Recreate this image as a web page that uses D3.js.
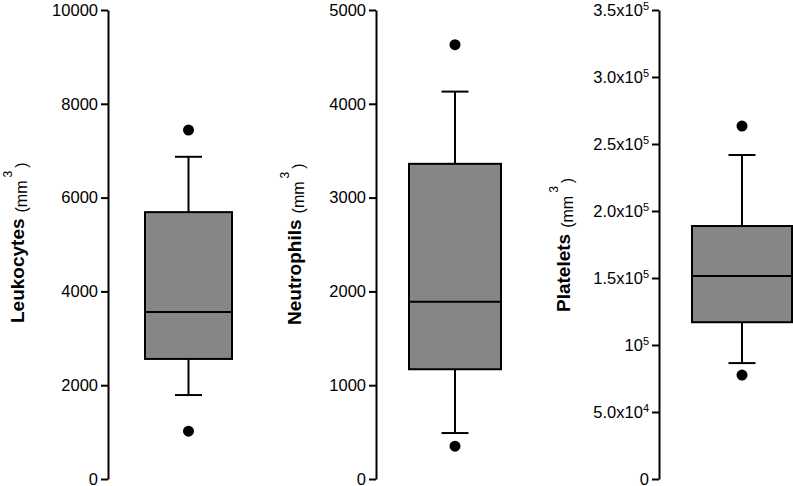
<!DOCTYPE html>
<html><head><meta charset="utf-8">
<script src="https://cdn.jsdelivr.net/npm/d3@7"></script>
<style>
body{margin:0;background:#fff;}
svg{display:block;font-family:"Liberation Sans",Arial,sans-serif;}
</style></head>
<body><svg id="c" width="793" height="486"></svg>
<script>
// ---- data ----
const categories = ["Leukocytes", "Neutrophils", "Platelets"];
const q1 = [2560, 1170, 117000];
const median = [3560, 1890, 151500];
const q3 = [5690, 3360, 188800];
const whiskerLow = [1790, 490, 86500];
const whiskerHigh = [6870, 4130, 241800];
const outliers = [[7440, 1020], [4630, 350], [263400, 77600]];
const yMax = [10000, 5000, 350000];
const tickValues = [
  [0, 2000, 4000, 6000, 8000, 10000],
  [0, 1000, 2000, 3000, 4000, 5000],
  [0, 50000, 100000, 150000, 200000, 250000, 300000, 350000]
];
// tick labels: [mantissa, exponent]
const plateletTickLabels = [["0", ""], ["5.0x10", "4"], ["10", "5"], ["1.5x10", "5"], ["2.0x10", "5"], ["2.5x10", "5"], ["3.0x10", "5"], ["3.5x10", "5"]];
const unitText = ["(mm", "3", ")"];

// ---- layout ----
const axisX = [108, 376, 659];
const boxLeft = [145, 409, 692];
const boxRight = [232, 501, 792];
const labelX = [24, 301, 570];
const labelY = [323, 325, 312];
const plotTop = 10, plotBottom = 479;

const svg = d3.select("#c");

categories.forEach((cat, i) => {
  const y = d3.scaleLinear().domain([0, yMax[i]]).range([plotBottom, plotTop]);
  const x = d3.scaleBand().domain([cat]).range([boxLeft[i], boxRight[i]]).padding(0);
  const g = svg.append("g");

  const axis = d3.axisLeft(y).tickValues(tickValues[i]).tickSize(7).tickSizeOuter(0).tickPadding(3);
  if (i < 2) axis.tickFormat(d3.format("d"));
  const ag = g.append("g").attr("transform", `translate(${axisX[i]},0)`).call(axis);
  ag.select(".domain").attr("stroke", "#000").attr("stroke-width", 2);
  ag.selectAll(".tick line").attr("stroke", "#000").attr("stroke-width", 2);
  ag.selectAll(".tick text").attr("font-size", 16.5).attr("fill", "#000")
    .attr("font-family", "'Liberation Sans',Arial,sans-serif");
  if (i === 2) {
    ag.selectAll(".tick text").each(function(d, k) {
      const t = d3.select(this).text("");
      const lab = plateletTickLabels[k];
      t.append("tspan").text(lab[0]);
      if (lab[1]) t.append("tspan").attr("font-size", 11).attr("dy", -6).text(lab[1]);
    });
  }

  const cx = x(cat) + x.bandwidth() / 2;
  const capW = 27;
  g.append("line").attr("x1", cx).attr("x2", cx).attr("y1", y(whiskerHigh[i])).attr("y2", y(q3[i]))
    .attr("stroke", "#000").attr("stroke-width", 2);
  g.append("line").attr("x1", cx).attr("x2", cx).attr("y1", y(q1[i])).attr("y2", y(whiskerLow[i]))
    .attr("stroke", "#000").attr("stroke-width", 2);
  g.append("line").attr("x1", cx - capW / 2).attr("x2", cx + capW / 2).attr("y1", y(whiskerHigh[i])).attr("y2", y(whiskerHigh[i]))
    .attr("stroke", "#000").attr("stroke-width", 2);
  g.append("line").attr("x1", cx - capW / 2).attr("x2", cx + capW / 2).attr("y1", y(whiskerLow[i])).attr("y2", y(whiskerLow[i]))
    .attr("stroke", "#000").attr("stroke-width", 2);
  g.append("rect").attr("x", x(cat)).attr("width", x.bandwidth())
    .attr("y", y(q3[i])).attr("height", y(q1[i]) - y(q3[i]))
    .attr("fill", "#868686").attr("stroke", "#000").attr("stroke-width", 2);
  g.append("line").attr("x1", x(cat)).attr("x2", x(cat) + x.bandwidth()).attr("y1", y(median[i])).attr("y2", y(median[i]))
    .attr("stroke", "#000").attr("stroke-width", 2);
  g.selectAll("circle.o").data(outliers[i]).join("circle").attr("class", "o")
    .attr("cx", cx).attr("cy", d => y(d)).attr("r", 5.5).attr("fill", "#000");

  const t = g.append("text").attr("transform", `translate(${labelX[i]},${labelY[i]}) rotate(-90)`)
    .attr("text-anchor", "start").attr("fill", "#000");
  t.append("tspan").attr("font-weight", "bold").attr("font-size", 19).text(cat);
  t.append("tspan").attr("font-size", 16).attr("dx", 6).attr("dy", 3).text(unitText[0]);
  t.append("tspan").attr("font-size", 12).attr("dx", 3).attr("dy", -15).text(unitText[1]);
  t.append("tspan").attr("font-size", 16).attr("dx", 3).attr("dy", 15).text(unitText[2]);
});
</script></body></html>
